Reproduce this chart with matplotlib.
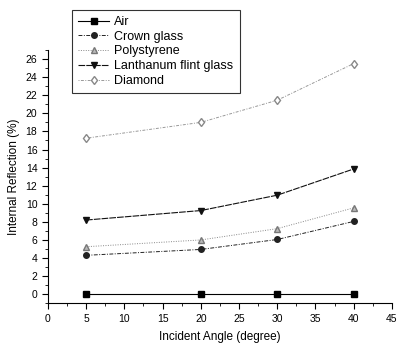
import matplotlib
matplotlib.use("Agg")
import matplotlib.pyplot as plt
from matplotlib.ticker import MultipleLocator

plt.rcParams["font.family"] = ["Liberation Sans", "DejaVu Sans"]

angles = [5, 20, 30, 40]
air = [0.0, 0.0, 0.0, 0.0]
crown = [4.3, 4.95, 6.05, 8.05]
polystyrene = [5.25, 6.0, 7.25, 9.55]
lanthanum = [8.2, 9.25, 10.95, 13.85]
diamond = [17.25, 19.0, 21.45, 25.5]

series = [
    ("Air", air, dict(color="black", ls="-", lw=0.8, marker="s", ms=4)),
    ("Crown glass", crown, dict(color="#222222", ls=(0, (4, 1.5, 1, 1.5)), lw=0.7, marker="o", ms=4)),
    ("Polystyrene", polystyrene, dict(color="#888888", ls=(0, (1, 1.5)), lw=0.7, marker="^", ms=4,
                                      mfc="#bbbbbb", mec="#777777")),
    ("Lanthanum flint glass", lanthanum, dict(color="#111111", ls=(0, (6, 1)), lw=0.8, marker="v", ms=5)),
    ("Diamond", diamond, dict(color="#999999", ls=(0, (1, 1.5, 3, 1.5)), lw=0.7, marker="d", ms=4.5,
                              mfc="white", mec="#888888")),
]

fig = plt.figure(figsize=(4.02, 3.45), dpi=100)
ax = fig.add_axes([0.119, 0.121, 0.856, 0.734])

for name, vals, style in series:
    ax.plot(angles, vals, label=name, **style)

ax.set_xlim(0, 45)
ax.set_ylim(-1, 27)
ax.xaxis.set_major_locator(MultipleLocator(5))
ax.xaxis.set_minor_locator(MultipleLocator(2.5))
ax.yaxis.set_major_locator(MultipleLocator(2))
ax.yaxis.set_minor_locator(MultipleLocator(1))
ax.tick_params(which="major", direction="out", length=4, width=0.8, labelsize=7.5)
ax.tick_params(which="minor", direction="out", length=2, width=0.6)
ax.spines["top"].set_visible(False)
ax.spines["right"].set_visible(False)

ax.set_xlabel("Incident Angle (degree)", fontsize=8.5, labelpad=5)
ax.set_ylabel("Internal Reflection (%)", fontsize=8.5, labelpad=4)

leg = ax.legend(loc="upper left", bbox_to_anchor=(0.179, 0.972), bbox_transform=fig.transFigure,
                borderaxespad=0, fontsize=9, fancybox=False, edgecolor="black",
                handlelength=2.5, labelspacing=0.22, borderpad=0.5, handletextpad=0.4)
leg.get_frame().set_linewidth(0.8)

fig.savefig("out.png", dpi=100)
